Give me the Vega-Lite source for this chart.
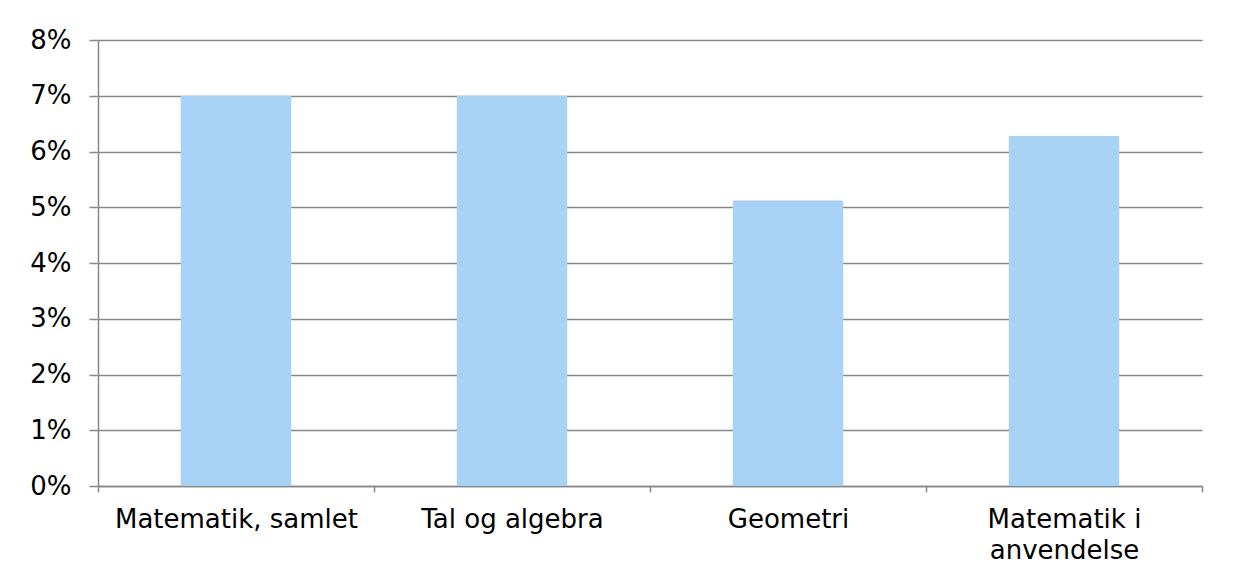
{
  "$schema": "https://vega.github.io/schema/vega-lite/v6.json",
  "width": 1104,
  "height": 446,
  "autosize": {"type": "none"},
  "padding": {"left": 98, "top": 40, "right": 32, "bottom": 93},
  "background": "white",
  "config": {"view": {"stroke": null}, "font": "DejaVu Sans"},
  "data": {"values": [
    {"kategori": "Matematik, samlet", "andel": 0.07},
    {"kategori": "Tal og algebra", "andel": 0.07},
    {"kategori": "Geometri", "andel": 0.0512},
    {"kategori": "Matematik i anvendelse", "andel": 0.0628}
  ]},
  "mark": {"type": "bar", "color": "#A8D2F4", "width": {"band": 0.4}},
  "encoding": {
    "x": {
      "field": "kategori", "type": "nominal", "sort": null,
      "scale": {"paddingInner": 0, "paddingOuter": 0},
      "axis": {
        "title": null, "labelAngle": 0, "tickBand": "extent",
        "domainColor": "#878787", "domainWidth": 1.5,
        "tickColor": "#878787", "tickWidth": 1.5, "tickSize": 6,
        "labelFontSize": 26, "labelColor": "black", "labelPadding": 14,
        "labelLineHeight": 31, "labelBaseline": "top", "labelLimit": 400,
        "labelExpr": "datum.value == 'Matematik i anvendelse' ? ['Matematik i', 'anvendelse'] : datum.value"
      }
    },
    "y": {
      "field": "andel", "type": "quantitative",
      "scale": {"domain": [0, 0.08]},
      "axis": {
        "title": null, "format": ".0%", "values": [0,0.01,0.02,0.03,0.04,0.05,0.06,0.07,0.08],
        "domainColor": "#878787", "domainWidth": 1.5,
        "tickColor": "#878787", "tickWidth": 1.5, "tickSize": 9,
        "gridColor": "#878787", "gridWidth": 1.5,
        "labelFontSize": 26, "labelColor": "black", "labelPadding": 18
      }
    }
  }
}
